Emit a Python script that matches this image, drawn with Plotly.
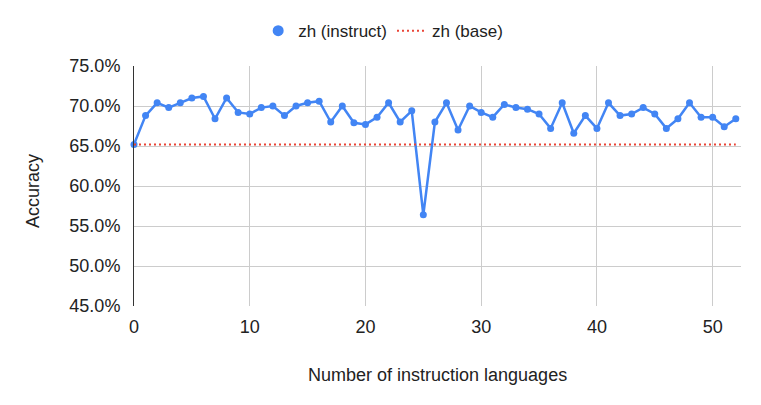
import plotly.graph_objects as go

x_values = list(range(53))
instruct = [65.2, 68.8, 70.4, 69.8, 70.4, 71.0, 71.2, 68.4, 71.0, 69.2,
            69.0, 69.8, 70.0, 68.8, 70.0, 70.4, 70.6, 68.0, 70.0, 67.9,
            67.7, 68.6, 70.4, 68.0, 69.4, 56.4, 68.0, 70.4, 67.0, 70.0,
            69.2, 68.6, 70.2, 69.8, 69.6, 69.0, 67.2, 70.4, 66.6, 68.8,
            67.2, 70.4, 68.8, 69.0, 69.8, 69.0, 67.2, 68.4, 70.4, 68.6,
            68.6, 67.4, 68.4]
base_value = 65.2
base = [base_value] * len(x_values)
y_ticks = [0.45, 0.50, 0.55, 0.60, 0.65, 0.70, 0.75]
x_ticks = [0, 10, 20, 30, 40, 50]

instruct_frac = [v / 100 for v in instruct]
base_frac = [v / 100 for v in base]

FONT = "Liberation Sans, Arial, sans-serif"
TXT = "#222222"
BLUE = "#4285F4"
RED = "#EA4335"

fig = go.Figure()
fig.add_trace(go.Scatter(
    x=x_values, y=instruct_frac, name="zh (instruct)", mode="lines+markers",
    line=dict(color=BLUE, width=2.5),
    marker=dict(color=BLUE, size=7),
    cliponaxis=False, showlegend=False, legendgroup="instruct",
))
# legend-only entry (circle symbol, like the reference legend)
fig.add_trace(go.Scatter(
    x=[None], y=[None], name="zh (instruct)", mode="markers",
    marker=dict(color=BLUE, size=11), legendgroup="instruct",
))
fig.add_trace(go.Scatter(
    x=x_values, y=base_frac, name="zh (base)", mode="lines",
    line=dict(color=RED, width=2, dash="2px,3px"),
))

fig.update_layout(
    width=761, height=405,
    margin=dict(l=126, r=28, t=58, b=107, autoexpand=False),
    paper_bgcolor="white", plot_bgcolor="white",
    font=dict(family=FONT, size=18, color=TXT),
    showlegend=True,
    legend=dict(orientation="h", xref="container", yref="container",
                x=0.493, xanchor="center", y=0.943, yanchor="middle",
                font=dict(size=17, color=TXT), itemwidth=30),
    xaxis=dict(range=[0, 52.45], tickvals=x_ticks, showgrid=True,
               gridcolor="#cccccc", zeroline=False, showline=False,
               ticks="", automargin=False, ticklabelstandoff=8,
               tickfont=dict(size=18, color=TXT)),
    yaxis=dict(range=[0.45, 0.75], tickvals=y_ticks, tickformat=".1%",
               showgrid=True, gridcolor="#cccccc", zeroline=False,
               showline=True, linecolor="#333333", linewidth=1,
               ticks="", automargin=False, ticklabelstandoff=9,
               tickfont=dict(size=18, color=TXT)),
    annotations=[
        dict(text="Number of instruction languages", xref="paper", yref="paper",
             x=0.5, y=-0.2875, xanchor="center", yanchor="middle",
             showarrow=False, font=dict(size=18, color=TXT)),
        dict(text="Accuracy", xref="paper", yref="paper",
             x=-0.1664, y=0.479, xanchor="center", yanchor="middle",
             textangle=-90, showarrow=False, font=dict(size=18, color=TXT)),
    ],
)

fig.write_html("out.html")
